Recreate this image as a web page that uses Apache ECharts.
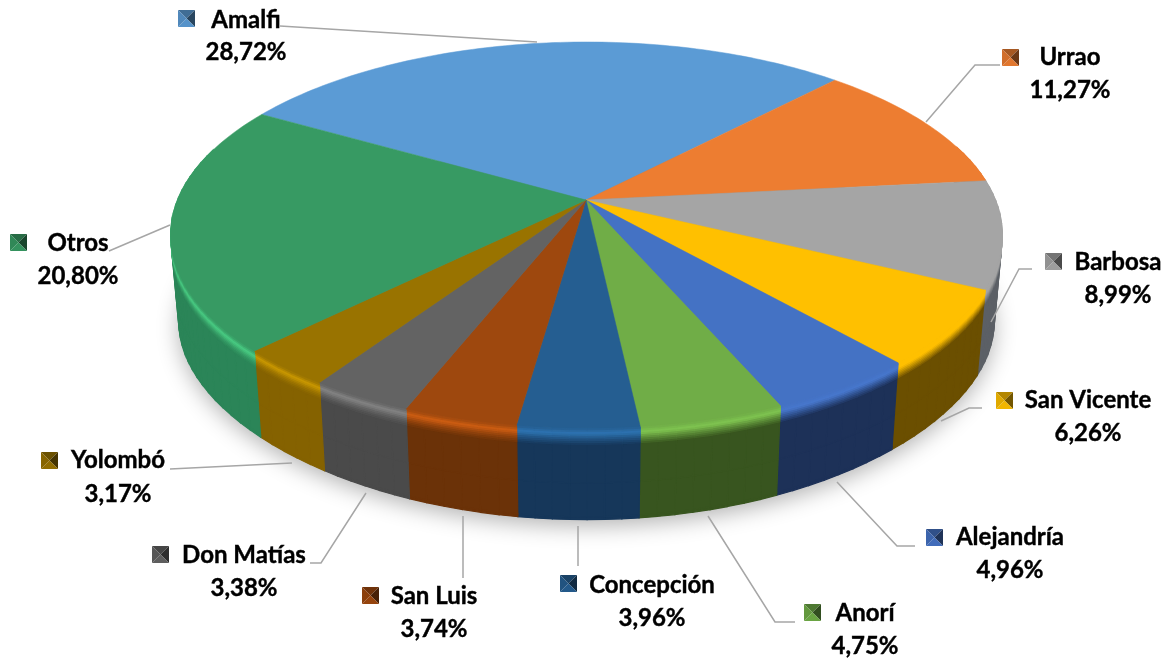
<!DOCTYPE html>
<html>
<head>
<meta charset="utf-8">
<style>
html,body{margin:0;padding:0;background:#fff;}
#box1{width:1176px;height:661px;}
</style>
<script src="https://cdn.jsdelivr.net/npm/echarts@6/dist/echarts.min.js"></script>
</head>
<body>
<div id="box1"></div>
<script>
var names = ['Amalfi','Urrao','Barbosa','San Vicente','Alejandría','Anorí','Concepción','San Luis','Don Matías','Yolombó','Otros'];
var values = [28.72,11.27,8.99,6.26,4.96,4.75,3.96,3.74,3.38,3.17,20.80];
var percentText = ['28,72%','11,27%','8,99%','6,26%','4,96%','4,75%','3,96%','3,74%','3,38%','3,17%','20,80%'];

var topColors = ['#5b9bd5','#ed7d31','#a5a5a5','#ffc000','#4472c4','#70ad47','#255e91','#9e480e','#636363','#997300','#379a63'];
var wallColors = ['#35608a','#8f4a1c','#5c6066','#6b4f00','#1d3158','#38551f','#16375a','#6b3208','#4a4a4a','#856200','#2b8558'];

// label layout: name centre, percent centre, key corner, leader line
var namePos = [[246,20],[1070,57],[1118,262],[1088,400],[1010,537],[865,613],[652,585],[434,596],[244,555],[118,460],[78,243]];
var percentPos = [[246,52],[1070,90],[1118,295],[1088,433],[1010,570],[865,646],[652,618],[434,629],[244,588],[118,494],[78,276]];
var keyPos = [[178,10],[1002,49],[1045,253],[996,392],[926,529],[804,604],[560,575],[362,587],[152,546],[41,452],[10,234]];
var leaders = [
    [[280,26],[537,42]],
    [[1000,65],[975,65],[926,122]],
    [[1032,269],[1019,269],[991,322]],
    [[982,408],[969,408],[941,421]],
    [[915,546],[897,546],[837,482]],
    [[795,622],[775,622],[708,516]],
    [[578,526],[578,566]],
    [[463,516],[463,578]],
    [[310,563],[321,563],[366,493]],
    [[170,469],[292,463]],
    [[109,251],[170,225]]
];

var startAngle = -60 * Math.PI / 180;
var total = 0;
for (var i = 0; i < values.length; i++) { total += values[i]; }

function sliceAngles(idx){
    var sum = 0;
    for (var i = 0; i < idx; i++) { sum += values[i]; }
    return [startAngle + sum / total * Math.PI * 2, startAngle + (sum + values[idx]) / total * Math.PI * 2];
}

// disc seen in perspective, t = 0 top rim, t = 1 bottom rim
function rimPoint(a, t){
    var u = Math.sin(a), v = -Math.cos(a);
    var w = 1 - 0.181 * v;
    var topX = 586.5 + 409 * u / w;
    var topY = 200 + 186.6 * v / w;
    var botX = 586.5 + 401 * u / w;
    var botY = 289 + 173 * v / (1 - 0.25 * v);
    return [topX + (botX - topX) * t, topY + (botY - topY) * t];
}

function arcPoints(a0, a1, t){
    var pts = [];
    var n = Math.max(2, Math.ceil((a1 - a0) / 0.02));
    for (var i = 0; i <= n; i++) {
        pts.push(rimPoint(a0 + (a1 - a0) * i / n, t));
    }
    return pts;
}

function mix(c1, c2, t){
    var out = '#';
    for (var i = 1; i < 7; i += 2) {
        var a = parseInt(c1.substr(i,2),16), b = parseInt(c2.substr(i,2),16);
        var s = Math.round(a + (b - a) * t).toString(16);
        out += s.length < 2 ? '0' + s : s;
    }
    return out;
}

function brighten(c, f){
    var out = '#';
    for (var i = 1; i < 7; i += 2) {
        var s = Math.min(255, Math.round(parseInt(c.substr(i,2),16) * f)).toString(16);
        out += s.length < 2 ? '0' + s : s;
    }
    return out;
}

function bandColor(idx, t, hl){
    var top = topColors[idx], wall = wallColors[idx];
    if (t < 0.05) { return brighten(top, 1 + hl * (t + 0.01) / 0.05); }
    if (t < 0.18) { return mix(brighten(top, 1 + hl * (0.18 - t) / 0.13), wall, (t - 0.05) / 0.13); }
    if (t > 0.97) { return mix(wall, '#000000', 0.2); }
    return wall;
}

var bands = [0,0.02,0.04,0.06,0.08,0.1,0.12,0.14,0.16,0.18,0.6,0.97,1];

function renderShadow(params, api){
    return {
        type: 'polygon',
        shape: { points: arcPoints(0, Math.PI * 2, 1) },
        style: { fill: '#888888', shadowBlur: 22, shadowOffsetY: 6, shadowColor: 'rgba(0,0,0,0.3)' }
    };
}

function renderWall(params, api){
    var idx = params.dataIndex;
    var ang = sliceAngles(idx);
    var midU = Math.sin((ang[0] + ang[1]) / 2);
    var hl = Math.max(0, Math.min(0.3, 0.2 - midU * 0.3));
    var n = Math.max(2, Math.ceil((ang[1] - ang[0]) / 0.04));
    var children = [];
    // small quads, a long strip folds over itself at the sides and leaves holes
    for (var b = bands.length - 2; b >= 0; b--) {
        var col = bandColor(idx, bands[b], hl);
        for (var s = 0; s < n; s++) {
            var a0 = ang[0] + (ang[1] - ang[0]) * s / n;
            var a1 = ang[0] + (ang[1] - ang[0]) * (s + 1) / n;
            if (-Math.cos((a0 + a1) / 2) < -0.3) { continue; }
            children.push({
                type: 'polygon',
                shape: { points: [rimPoint(a0, bands[b]), rimPoint(a1, bands[b]), rimPoint(a1, bands[b + 1]), rimPoint(a0, bands[b + 1])] },
                style: { fill: col, stroke: col, lineWidth: 1.2 }
            });
        }
    }
    return { type: 'group', children: children };
}

function renderTop(params, api){
    var idx = params.dataIndex;
    var ang = sliceAngles(idx);
    var pts = [[586,200]].concat(arcPoints(ang[0], ang[1], 0));
    return {
        type: 'polygon',
        shape: { points: pts },
        style: { fill: topColors[idx], stroke: topColors[idx], lineWidth: 0.5 }
    };
}

function renderLabel(params, api){
    var idx = params.dataIndex;
    var k = keyPos[idx], s = 17, c = topColors[idx];
    var mid = [k[0] + s / 2, k[1] + s / 2];
    var a = k, b = [k[0] + s, k[1]], d = [k[0] + s, k[1] + s], e = [k[0], k[1] + s];
    var font = 'bold 24px Lato, "Open Sans", sans-serif';
    return {
        type: 'group',
        children: [
            { type: 'polyline', shape: { points: leaders[idx] }, style: { stroke: '#a6a6a6', lineWidth: 1.5, fill: null } },
            { type: 'polygon', shape: { points: [a,b,mid] }, style: { fill: mix(c,'#000000',0.3) } },
            { type: 'polygon', shape: { points: [b,d,mid] }, style: { fill: mix(c,'#000000',0.55) } },
            { type: 'polygon', shape: { points: [d,e,mid] }, style: { fill: mix(c,'#000000',0.05) } },
            { type: 'polygon', shape: { points: [e,a,mid] }, style: { fill: mix(c,'#000000',0.12) } },
            { type: 'text', style: { x: namePos[idx][0], y: namePos[idx][1], text: names[idx], font: font, fill: '#000', stroke: '#000', lineWidth: 0.4, textAlign: 'center', textVerticalAlign: 'middle' } },
            { type: 'text', style: { x: percentPos[idx][0], y: percentPos[idx][1], text: percentText[idx], font: font, fill: '#000', stroke: '#000', lineWidth: 0.4, textAlign: 'center', textVerticalAlign: 'middle' } }
        ]
    };
}

var myChart = echarts.init(document.getElementById('box1'));
var option = {
    backgroundColor: '#fff',
    animation: false,
    series: [
        { type: 'custom', coordinateSystem: 'none', renderItem: renderShadow, data: [0], silent: true, z: 1 },
        { type: 'custom', coordinateSystem: 'none', renderItem: renderWall, data: values, silent: true, z: 2 },
        { type: 'custom', coordinateSystem: 'none', renderItem: renderTop, data: values, z: 3 },
        { type: 'custom', coordinateSystem: 'none', renderItem: renderLabel, data: values, silent: true, z: 4 }
    ]
};
myChart.setOption(option);
</script>
</body>
</html>
